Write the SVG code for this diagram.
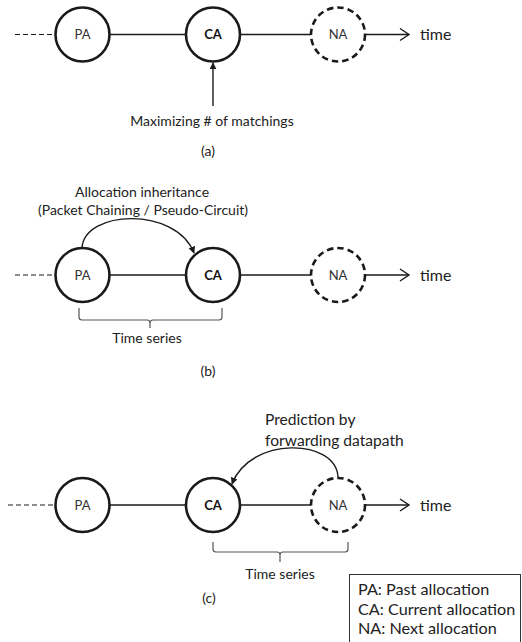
<svg xmlns="http://www.w3.org/2000/svg" width="522" height="642" viewBox="0 0 522 642">
<defs>
<marker id="fill" viewBox="0 0 10 10" refX="9" refY="5" markerWidth="7" markerHeight="7" markerUnits="userSpaceOnUse" orient="auto">
<path d="M0,0 L10,5 L0,10 z" fill="#1a1a1a"/>
</marker>
</defs>
<style>
.node{fill:#fff;stroke:#1a1a1a;stroke-width:2.6}
.dash{stroke-dasharray:6.5 4}
.ln{stroke:#1a1a1a;stroke-width:1.4;fill:none}
.dl{stroke:#1a1a1a;stroke-width:1.2;stroke-dasharray:5 3;fill:none}
.br{stroke:#555;stroke-width:1.2;fill:none}
.lbl{font-family:Lato,"Liberation Sans",sans-serif;font-size:13px;fill:#333;text-anchor:middle}
.b{font-weight:bold;fill:#111}
.t{font-family:Lato,"Liberation Sans",sans-serif;font-size:14px;fill:#222}
.big{font-size:16px}
.pred{font-size:15.6px}
.leg{font-size:16.2px}
.mid{text-anchor:middle}
</style>
<rect width="522" height="642" fill="#fff"/>
<g id="connectors">
<!-- (a) -->
<line class="dl" x1="15" y1="34.5" x2="55" y2="34.5"/>
<line class="ln" x1="110" y1="34.5" x2="186" y2="34.5"/>
<line class="ln" x1="240" y1="34.5" x2="311" y2="34.5"/>
<line class="ln" x1="366" y1="34.5" x2="408" y2="34.5"/>
<polyline class="ln" points="400,28.5 409,34.5 400,40.5"/>
<line class="ln" x1="213" y1="106" x2="213" y2="63" marker-end="url(#fill)"/>
<!-- (b) -->
<line class="dl" x1="15" y1="275" x2="55" y2="275"/>
<line class="ln" x1="110" y1="275" x2="186" y2="275"/>
<line class="ln" x1="240" y1="275" x2="311" y2="275"/>
<line class="ln" x1="366" y1="275" x2="408" y2="275"/>
<polyline class="ln" points="400,269 409,275 400,281"/>
<path class="ln" d="M82,248 C84,210 176,206 194,253" marker-end="url(#fill)"/>
<path class="br" d="M79,308 V317 Q79,320 82,320 H147 Q150,320 150,323 V328 M150,323 Q150,320 153,320 H219 Q222,320 222,317 V308"/>
<!-- (c) -->
<line class="dl" x1="8" y1="505" x2="55" y2="505"/>
<line class="ln" x1="110" y1="505" x2="186" y2="505"/>
<line class="ln" x1="240" y1="505" x2="311" y2="505"/>
<line class="ln" x1="366" y1="505" x2="408" y2="505"/>
<polyline class="ln" points="400,499 409,505 400,511"/>
<path class="ln" d="M338,477 C336,438 250,436 232,484" marker-end="url(#fill)"/>
<path class="br" d="M213,542 V549 Q213,552 216,552 H277 Q280,552 280,555 V562 M280,555 Q280,552 283,552 H345 Q348,552 348,549 V542"/>
</g>
<g id="node-a-PA"><circle class="node" cx="82.5" cy="34.5" r="27"/><text class="lbl" x="82.5" y="39">PA</text></g>
<g id="node-a-CA"><circle class="node" cx="213" cy="34.5" r="27"/><text class="lbl b" x="213" y="39">CA</text></g>
<g id="node-a-NA"><circle class="node dash" cx="338" cy="34.5" r="27"/><text class="lbl" x="338" y="39">NA</text></g>
<g id="node-b-PA"><circle class="node" cx="82.5" cy="275" r="27"/><text class="lbl" x="82.5" y="279.5">PA</text></g>
<g id="node-b-CA"><circle class="node" cx="213" cy="275" r="27"/><text class="lbl b" x="213" y="279.5">CA</text></g>
<g id="node-b-NA"><circle class="node dash" cx="338" cy="275" r="27"/><text class="lbl" x="338" y="279.5">NA</text></g>
<g id="node-c-PA"><circle class="node" cx="82.5" cy="505" r="27"/><text class="lbl" x="82.5" y="509.5">PA</text></g>
<g id="node-c-CA"><circle class="node" cx="213" cy="505" r="27"/><text class="lbl b" x="213" y="509.5">CA</text></g>
<g id="node-c-NA"><circle class="node dash" cx="338" cy="505" r="27"/><text class="lbl" x="338" y="509.5">NA</text></g>
<g id="labels">
<text class="t big" x="420" y="40">time</text>
<text class="t big" x="420" y="280.5">time</text>
<text class="t big" x="420" y="510.5">time</text>
<text class="t mid" x="212" y="126">Maximizing # of matchings</text>
<text class="t mid" x="208" y="156">(a)</text>
<text class="t mid" x="142" y="197">Allocation inheritance</text>
<text class="t mid" x="143" y="215">(Packet Chaining / Pseudo-Circuit)</text>
<text class="t mid" x="147" y="343">Time series</text>
<text class="t mid" x="208" y="376">(b)</text>
<text class="t pred" x="265" y="425">Prediction by</text>
<text class="t pred" x="265" y="446">forwarding datapath</text>
<text class="t mid" x="280" y="579">Time series</text>
<text class="t mid" x="209" y="603">(c)</text>
</g>
<g id="legend">
<rect x="349.5" y="574.5" width="171" height="70" fill="#fff" stroke="#333" stroke-width="1"/>
<text class="t leg" x="358" y="595">PA: Past allocation</text>
<text class="t leg" x="358" y="614.5">CA: Current allocation</text>
<text class="t leg" x="358" y="634">NA: Next allocation</text>
</g>
</svg>
